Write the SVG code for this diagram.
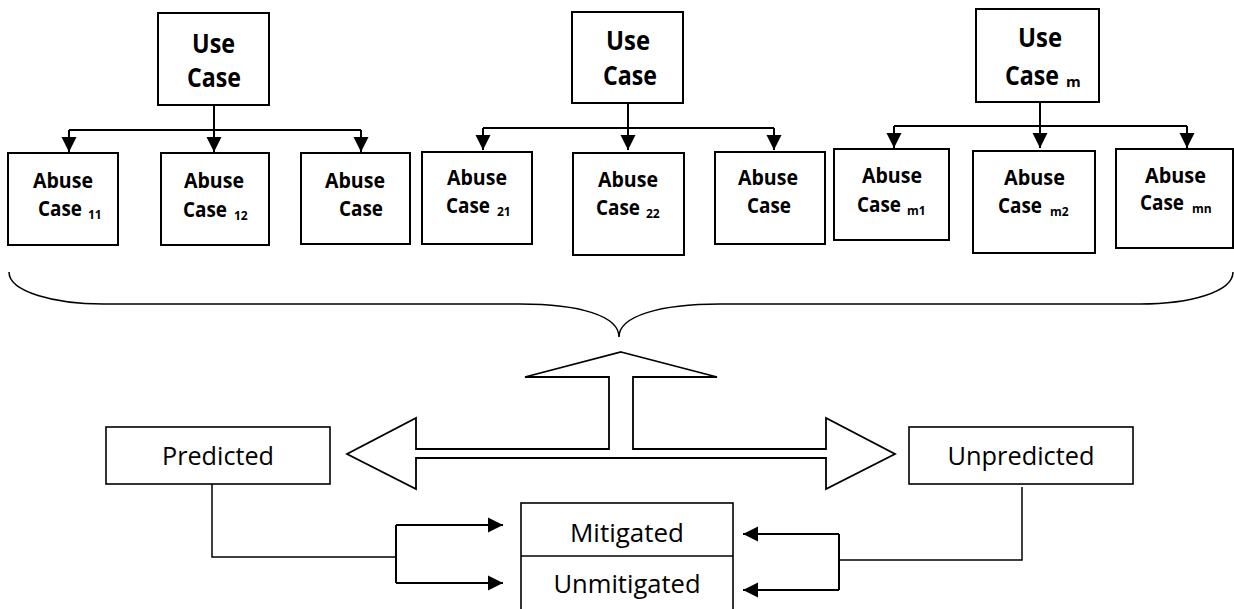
<svg xmlns="http://www.w3.org/2000/svg" width="1234" height="609" viewBox="0 0 1234 609">
<style>
.box{fill:#fff;stroke:#000;stroke-width:2}
.box2{fill:#fff;stroke:#000;stroke-width:1.6}
.bt{font-family:"Open Sans","Liberation Sans",sans-serif;font-weight:bold;fill:#000}
.uc{font-size:26px}
.ab{font-size:22px}
.sub{font-size:12px}
.nt{font-family:"Open Sans","Liberation Sans",sans-serif;font-size:26px;text-anchor:middle;fill:#000}
.thick{fill:none;stroke:#000;stroke-width:2}
.thin{fill:none;stroke:#000;stroke-width:1.5}
</style>
<defs>
<marker id="ah" viewBox="0 0 10 10" refX="10" refY="5" markerWidth="7.5" markerHeight="8" markerUnits="strokeWidth" orient="auto">
<path d="M0,0 L10,5 L0,10 Z" fill="#000"/>
</marker>
<marker id="ahw" viewBox="0 0 10 10" refX="10" refY="5" markerWidth="7.5" markerHeight="10" markerUnits="strokeWidth" orient="auto">
<path d="M0,0 L10,5 L0,10 Z" fill="#000"/>
</marker>
</defs>

<g id="connectors">
<path class="thick" d="M214,105 V130 M69,130 H361"/>
<path class="thick" d="M69,130 V152" marker-end="url(#ahw)"/>
<path class="thick" d="M214,130 V152" marker-end="url(#ahw)"/>
<path class="thick" d="M361,130 V152" marker-end="url(#ahw)"/>
<path class="thick" d="M628,103 V128 M483,128 H774"/>
<path class="thick" d="M483,128 V150" marker-end="url(#ahw)"/>
<path class="thick" d="M628,128 V150" marker-end="url(#ahw)"/>
<path class="thick" d="M774,128 V150" marker-end="url(#ahw)"/>
<path class="thick" d="M1040,102 V126 M894,126 H1187"/>
<path class="thick" d="M894,126 V148" marker-end="url(#ahw)"/>
<path class="thick" d="M1040,126 V148" marker-end="url(#ahw)"/>
<path class="thick" d="M1187,126 V148" marker-end="url(#ahw)"/>
<path class="thin" d="M9,272 C9,292 55,304 103,304 L520,304 C580,304 619,316 619,337 C619,316 660,304 720,304 L1140,304 C1190,304 1233,292 1233,272"/>
<path fill="#fff" stroke="#000" stroke-width="1.8" stroke-linejoin="miter" d="M621,352 L717,377 L633,377 L633,449 L826,449 L826,418 L895,454 L826,489 L826,458 L416,458 L416,489 L347,454 L416,418 L416,449 L609,449 L609,377 L525,377 Z"/>
<path class="thin" d="M212,484 V557 H396"/>
<path class="thick" d="M396,525 V583"/>
<path class="thick" d="M396,525 H503" marker-end="url(#ah)"/>
<path class="thick" d="M396,583 H503" marker-end="url(#ah)"/>
<path class="thin" d="M1022,487 V560 H839"/>
<path class="thick" d="M839,534 V590"/>
<path class="thick" d="M839,534 H743" marker-end="url(#ah)"/>
<path class="thick" d="M839,590 H743" marker-end="url(#ah)"/>
</g>

<g id="usecase1"><rect class="box" x="158" y="13" width="111" height="92"/>
<text class="bt uc" x="192" y="53" textLength="43" lengthAdjust="spacingAndGlyphs">Use</text>
<text class="bt uc" x="187" y="87" textLength="54" lengthAdjust="spacingAndGlyphs">Case</text></g>
<g id="usecase2"><rect class="box" x="572" y="12" width="111" height="91"/>
<text class="bt uc" x="606" y="50" textLength="44" lengthAdjust="spacingAndGlyphs">Use</text>
<text class="bt uc" x="603" y="85" textLength="54" lengthAdjust="spacingAndGlyphs">Case</text></g>
<g id="usecasem"><rect class="box" x="976" y="9" width="123" height="93"/>
<text class="bt uc" x="1018" y="47" textLength="44" lengthAdjust="spacingAndGlyphs">Use</text>
<text class="bt uc" x="1005" y="85"><tspan textLength="54" lengthAdjust="spacingAndGlyphs">Case</tspan><tspan x="1066" font-size="15" dy="2">m</tspan></text></g>

<g id="abuse11"><rect class="box" x="8" y="153" width="110" height="92"/>
<text class="bt ab" x="33" y="188" textLength="60" lengthAdjust="spacingAndGlyphs">Abuse</text>
<text class="bt ab" x="38" y="216"><tspan textLength="44" lengthAdjust="spacingAndGlyphs">Case</tspan><tspan class="sub" x="88" dy="3">11</tspan></text></g>
<g id="abuse12"><rect class="box" x="161" y="153" width="108" height="92"/>
<text class="bt ab" x="184" y="188" textLength="60" lengthAdjust="spacingAndGlyphs">Abuse</text>
<text class="bt ab" x="183" y="217"><tspan textLength="44" lengthAdjust="spacingAndGlyphs">Case</tspan><tspan class="sub" x="234" dy="3">12</tspan></text></g>
<g id="abuse1n"><rect class="box" x="301" y="153" width="109" height="91"/>
<text class="bt ab" x="325" y="188" textLength="60" lengthAdjust="spacingAndGlyphs">Abuse</text>
<text class="bt ab" x="339" y="216" textLength="44" lengthAdjust="spacingAndGlyphs">Case</text></g>

<g id="abuse21"><rect class="box" x="422" y="152" width="110" height="92"/>
<text class="bt ab" x="447" y="185" textLength="60" lengthAdjust="spacingAndGlyphs">Abuse</text>
<text class="bt ab" x="446" y="213"><tspan textLength="44" lengthAdjust="spacingAndGlyphs">Case</tspan><tspan class="sub" x="497" dy="3">21</tspan></text></g>
<g id="abuse22"><rect class="box" x="573" y="153" width="111" height="102"/>
<text class="bt ab" x="598" y="187" textLength="60" lengthAdjust="spacingAndGlyphs">Abuse</text>
<text class="bt ab" x="596" y="215"><tspan textLength="44" lengthAdjust="spacingAndGlyphs">Case</tspan><tspan class="sub" x="646" dy="3">22</tspan></text></g>
<g id="abuse2n"><rect class="box" x="715" y="152" width="110" height="92"/>
<text class="bt ab" x="738" y="185" textLength="60" lengthAdjust="spacingAndGlyphs">Abuse</text>
<text class="bt ab" x="747" y="213" textLength="44" lengthAdjust="spacingAndGlyphs">Case</text></g>

<g id="abusem1"><rect class="box" x="834" y="149" width="115" height="91"/>
<text class="bt ab" x="862" y="183" textLength="60" lengthAdjust="spacingAndGlyphs">Abuse</text>
<text class="bt ab" x="857" y="212"><tspan textLength="44" lengthAdjust="spacingAndGlyphs">Case</tspan><tspan class="sub" x="907" dy="3">m1</tspan></text></g>
<g id="abusem2"><rect class="box" x="973" y="151" width="122" height="102"/>
<text class="bt ab" x="1004" y="185" textLength="61" lengthAdjust="spacingAndGlyphs">Abuse</text>
<text class="bt ab" x="998" y="213"><tspan textLength="44" lengthAdjust="spacingAndGlyphs">Case</tspan><tspan class="sub" x="1050" dy="3">m2</tspan></text></g>
<g id="abusemn"><rect class="box" x="1116" y="149" width="117" height="99"/>
<text class="bt ab" x="1145" y="183" textLength="61" lengthAdjust="spacingAndGlyphs">Abuse</text>
<text class="bt ab" x="1140" y="210"><tspan textLength="44" lengthAdjust="spacingAndGlyphs">Case</tspan><tspan class="sub" x="1192" dy="3">mn</tspan></text></g>

<g id="predicted"><rect class="box2" x="106" y="427" width="224" height="57"/>
<text class="nt" x="218" y="465" textLength="112" lengthAdjust="spacingAndGlyphs">Predicted</text></g>
<g id="unpredicted"><rect class="box2" x="909" y="427" width="224" height="57"/>
<text class="nt" x="1021" y="465" textLength="147" lengthAdjust="spacingAndGlyphs">Unpredicted</text></g>
<g id="mitigation"><rect class="box2" x="521" y="503" width="212" height="120"/>
<line class="thin" x1="521" y1="556" x2="733" y2="556"/>
<text class="nt" x="627" y="542" textLength="114" lengthAdjust="spacingAndGlyphs">Mitigated</text>
<text class="nt" x="627" y="593" textLength="147" lengthAdjust="spacingAndGlyphs">Unmitigated</text></g>
</svg>
